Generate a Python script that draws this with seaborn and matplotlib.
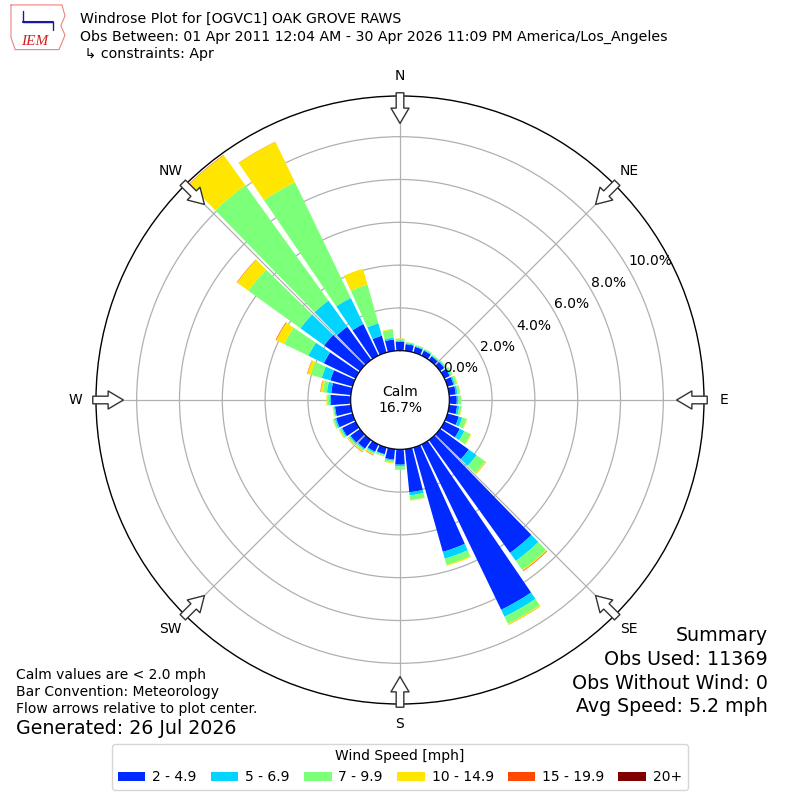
import numpy as np
import pandas as pd
import matplotlib
matplotlib.use("Agg")
import matplotlib.pyplot as plt
import seaborn as sns

# wind direction bins (degrees, meteorological) and speed bins
directions = np.arange(0, 360, 10)
speed_bins = ["2 - 4.9", "5 - 6.9", "7 - 9.9", "10 - 14.9", "15 - 19.9", "20+"]

spd_2_5 = [0.42, 0.32, 0.28, 0.26, 0.22, 0.25, 0.28, 0.30, 0.32, 0.35, 0.38, 0.55,
           0.80, 1.66, 6.50, 8.58, 5.07, 2.03, 0.72, 0.50, 0.33, 0.38, 0.50, 0.55,
           0.70, 0.80, 0.75, 0.93, 0.93, 1.08, 1.65, 2.06, 1.92, 1.64, 0.82, 0.54]
spd_5_7 = [0.06, 0.05, 0.04, 0.04, 0.04, 0.05, 0.06, 0.07, 0.08, 0.08, 0.10, 0.17,
           0.24, 0.45, 0.46, 0.36, 0.33, 0.15, 0.08, 0.06, 0.04, 0.06, 0.06, 0.06,
           0.06, 0.07, 0.05, 0.07, 0.20, 0.42, 0.80, 1.37, 1.50, 1.35, 0.60, 0.09]
spd_7_10 = [0.08, 0.05, 0.05, 0.05, 0.05, 0.05, 0.08, 0.10, 0.10, 0.12, 0.10, 0.20,
            0.32, 0.49, 0.52, 0.36, 0.30, 0.22, 0.15, 0.08, 0.06, 0.07, 0.08, 0.08,
            0.08, 0.08, 0.05, 0.10, 0.19, 0.53, 1.26, 3.00, 6.64, 6.00, 1.88, 0.37]
spd_10_15 = [0.02, 0.01, 0.01, 0.01, 0.01, 0.01, 0.02, 0.03, 0.03, 0.02, 0.02, 0.04,
             0.04, 0.05, 0.05, 0.05, 0.05, 0.02, 0.02, 0.04, 0.02, 0.04, 0.05, 0.04,
             0.04, 0.02, 0.02, 0.04, 0.10, 0.16, 0.41, 0.65, 1.73, 2.10, 0.77, 0.04]
spd_15_20 = [0.0, 0.0, 0.0, 0.0, 0.0, 0.0, 0.0, 0.0, 0.0, 0.0, 0.0, 0.0,
             0.0, 0.01, 0.03, 0.01, 0.0, 0.0, 0.0, 0.0, 0.0, 0.02, 0.02, 0.01,
             0.0, 0.0, 0.0, 0.0, 0.02, 0.02, 0.03, 0.02, 0.02, 0.01, 0.0, 0.0]
spd_20 = [0.0] * 36

calm_pct = 16.7
r_ticks = [0, 2, 4, 6, 8, 10]
compass = ["N", "NE", "E", "SE", "S", "SW", "W", "NW"]

df = pd.DataFrame(
    {"dir": directions, speed_bins[0]: spd_2_5, speed_bins[1]: spd_5_7,
     speed_bins[2]: spd_7_10, speed_bins[3]: spd_10_15,
     speed_bins[4]: spd_15_20, speed_bins[5]: spd_20}
)

sns.set_style("white")
plt.rcParams["font.family"] = ["DejaVu Sans"]
plt.rcParams["text.color"] = "black"
colors = sns.color_palette(["#002aff", "#00d4ff", "#7cff79", "#ffe600", "#ff4800", "#800000"])

fig = plt.figure(figsize=(8, 8), dpi=100)
ax = fig.add_axes([0.12, 0.12, 0.76, 0.76], projection="polar")
ax.set_theta_zero_location("N")
ax.set_theta_direction(-1)
ax.set_rorigin(-2.3)
ax.set_ylim(0, 11.9)

theta = np.deg2rad(df["dir"])
width = np.deg2rad(10) * 0.85
bottom = np.zeros(len(df))
handles = []
for label, color in zip(speed_bins, colors):
    bars = ax.bar(theta, df[label], width=width, bottom=bottom, color=color,
                  label=label, linewidth=0, zorder=3)
    handles.append(bars)
    bottom = bottom + df[label].values

# grid
ax.set_xticks(np.deg2rad(np.arange(0, 360, 45)))
ax.set_xticklabels([])
ax.set_yticks(r_ticks)
ax.set_yticklabels([])
ax.grid(True, color="#b0b0b0", linewidth=0.9, zorder=1)
ax.spines["polar"].set_color("black")
ax.spines["polar"].set_linewidth(1.0)

# calm circle
circ = np.linspace(0, 2 * np.pi, 361)
ax.plot(circ, np.zeros_like(circ), color="black", linewidth=1.0, zorder=4)
ax.text(0, -2.3, f"Calm\n{calm_pct:.1f}%", ha="center", va="center", fontsize=10, zorder=5)

# radial labels
for r in r_ticks:
    ax.text(np.deg2rad(60), r, f"{r:.1f}%", ha="left", va="bottom", fontsize=10, zorder=5)

# compass labels and flow arrows
for i, name in enumerate(compass):
    ang = np.deg2rad(i * 45)
    ax.text(ang, 12.85, name, ha="center", va="center", fontsize=10)
    ax.annotate("", xy=(ang, 10.62), xytext=(ang, 12.05), annotation_clip=False,
                arrowprops=dict(arrowstyle="simple,head_length=1.1,head_width=1.3,tail_width=0.55",
                                mutation_scale=10, fc="white", ec="#333333", lw=1,
                                shrinkA=0, shrinkB=0), zorder=6)

# header
fig.text(0.1, 0.976, "Windrose Plot for [OGVC1] OAK GROVE RAWS", fontsize=10.15, va="center")
fig.text(0.1, 0.954, "Obs Between: 01 Apr 2011 12:04 AM - 30 Apr 2026 11:09 PM America/Los_Angeles",
         fontsize=10.15, va="center")
fig.text(0.1, 0.9325, " \u21b3 constraints: Apr", fontsize=10.15, va="center")

# logo (simplified)
logo = fig.add_axes([0.01, 0.935, 0.075, 0.06])
logo.axis("off")
logo.set_xlim(0, 1)
logo.set_ylim(0, 1)
logo.plot([0.05, 0.9, 0.95, 0.88, 0.95, 0.85, 0.12, 0.05, 0.05],
          [0.98, 0.98, 0.75, 0.55, 0.35, 0.05, 0.05, 0.3, 0.98], color="#f08080", lw=0.8)
logo.plot([0.25, 0.75], [0.62, 0.62], color="#1a1aa0", lw=1.5)
logo.plot([0.25, 0.25, 0.75, 0.75], [0.85, 0.62, 0.62, 0.45], color="#1a1aa0", lw=1)
logo.text(0.45, 0.22, "IEM", color="#d42020", fontsize=11, style="italic",
          family="Liberation Serif", ha="center", va="center")

# summary
big = 13.7
fig.text(0.96, 0.206, "Summary", fontsize=big, ha="right", va="center")
fig.text(0.96, 0.176, "Obs Used: 11369", fontsize=big, ha="right", va="center")
fig.text(0.96, 0.146, "Obs Without Wind: 0", fontsize=big, ha="right", va="center")
fig.text(0.96, 0.1175, "Avg Speed: 5.2 mph", fontsize=big, ha="right", va="center")

fig.text(0.02, 0.156, "Calm values are < 2.0 mph", fontsize=10, va="center")
fig.text(0.02, 0.135, "Bar Convention: Meteorology", fontsize=10, va="center")
fig.text(0.02, 0.1135, "Flow arrows relative to plot center.", fontsize=10, va="center")
fig.text(0.02, 0.089, "Generated: 26 Jul 2026", fontsize=big, va="center")

fig.legend(handles=handles, labels=speed_bins, loc="lower center", bbox_to_anchor=(0.5, 0.004),
           ncol=6, title="Wind Speed [mph]", fontsize=10, title_fontsize=10, frameon=True,
           columnspacing=1.0, handletextpad=0.5, handlelength=2.0)

fig.savefig("out.png", dpi=100)
